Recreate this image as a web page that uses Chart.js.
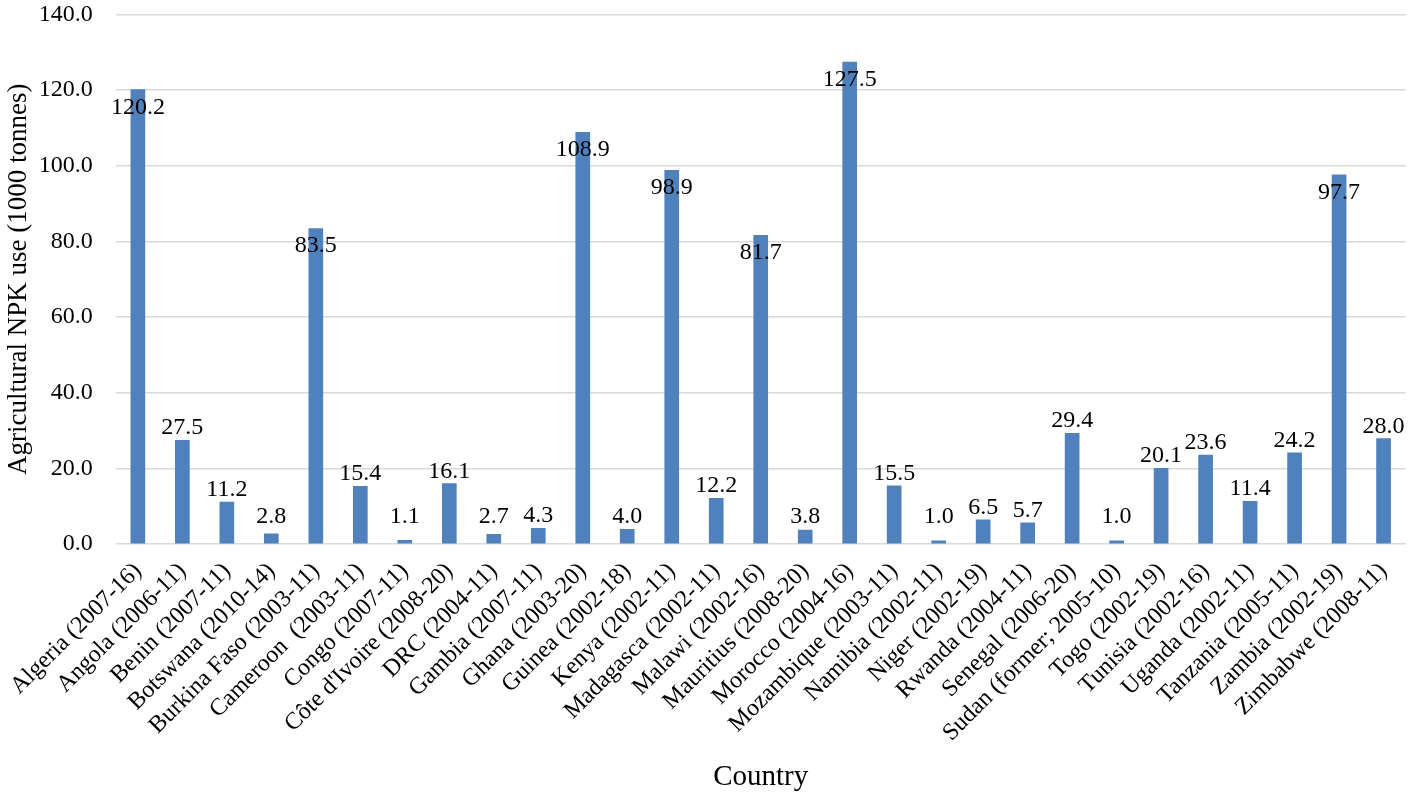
<!DOCTYPE html>
<html>
<head>
<meta charset="utf-8">
<script src="https://cdn.jsdelivr.net/npm/chart.js@4.4.0/dist/chart.umd.min.js"></script>
<style>
html,body{margin:0;padding:0;background:#fff;}
#wrap{width:1417px;height:796px;position:relative;}
</style>
</head>
<body>
<div id="wrap"><canvas id="c"></canvas></div>
<script>
const categories = [
  "Algeria (2007-16)", "Angola (2006-11)", "Benin (2007-11)", "Botswana (2010-14)",
  "Burkina Faso (2003-11)", "Cameroon  (2003-11)", "Congo (2007-11)", "Côte d'Ivoire (2008-20)",
  "DRC (2004-11)", "Gambia (2007-11)", "Ghana (2003-20)", "Guinea (2002-18)",
  "Kenya (2002-11)", "Madagasca (2002-11)", "Malawi (2002-16)", "Mauritius (2008-20)",
  "Morocco (2004-16)", "Mozambique (2003-11)", "Namibia (2002-11)", "Niger (2002-19)",
  "Rwanda (2004-11)", "Senegal (2006-20)", "Sudan (former; 2005-10)", "Togo (2002-19)",
  "Tunisia (2002-16)", "Uganda (2002-11)", "Tanzania (2005-11)", "Zambia (2002-19)",
  "Zimbabwe (2008-11)"
];
const npkUse = [
  120.2, 27.5, 11.2, 2.8, 83.5, 15.4, 1.1, 16.1, 2.7, 4.3, 108.9, 4.0, 98.9, 12.2, 81.7,
  3.8, 127.5, 15.5, 1.0, 6.5, 5.7, 29.4, 1.0, 20.1, 23.6, 11.4, 24.2, 97.7, 28.0
];
const yTicks = [0, 20, 40, 60, 80, 100, 120, 140];
const yAxisTitle = "Agricultural NPK use (1000 tonnes)";
const xAxisTitle = "Country";

const FONT = "'Liberation Serif', 'Times New Roman', serif";

const dataLabels = {
  id: 'dataLabels',
  afterDatasetsDraw(chart) {
    const ctx = chart.ctx;
    const meta = chart.getDatasetMeta(0);
    const yScale = chart.scales.y;
    const base = yScale.getPixelForValue(0);
    const tallLimit = yScale.getPixelForValue(75);
    ctx.save();
    ctx.font = "24px " + FONT;
    ctx.fillStyle = "#000";
    ctx.textAlign = "center";
    ctx.textBaseline = "middle";
    meta.data.forEach((bar, i) => {
      const v = chart.data.datasets[0].data[i];
      let y;
      if (bar.y < tallLimit) {
        y = bar.y + 18;
      } else {
        y = Math.min(bar.y - 12, base - 27);
      }
      ctx.fillText(v.toFixed(1), bar.x, y);
    });
    ctx.restore();
  }
};

new Chart(document.getElementById('c'), {
  type: 'bar',
  data: {
    labels: categories,
    datasets: [{
      data: npkUse,
      backgroundColor: '#4F81BD',
      borderWidth: 0,
      barPercentage: 0.33,
      categoryPercentage: 1.0
    }]
  },
  options: {
    responsive: true,
    maintainAspectRatio: false,
    animation: false,
    layout: { padding: { left: 0, right: 7, top: 0, bottom: 1 } },
    plugins: {
      legend: { display: false },
      tooltip: { enabled: false }
    },
    scales: {
      x: {
        grid: { display: false, drawTicks: false },
        border: { display: false },
        ticks: {
          color: '#000',
          font: { family: FONT, size: 24 },
          maxRotation: 45,
          minRotation: 45,
          autoSkip: false,
          padding: 13
        },
        title: {
          display: true,
          text: xAxisTitle,
          color: '#000',
          font: { family: FONT, size: 29 },
          padding: { top: 0, bottom: 0 }
        }
      },
      y: {
        min: 0,
        max: 140,
        afterBuildTicks(axis) {
          axis.ticks = yTicks.map(v => ({ value: v }));
        },
        grid: { color: '#D9D9D9', lineWidth: 1.5, drawTicks: true, tickLength: 23, tickColor: 'rgba(0,0,0,0)' },
        border: { display: false },
        ticks: {
          color: '#000',
          font: { family: FONT, size: 24 },
          padding: 0,
          callback: v => Number(v).toFixed(1)
        },
        title: {
          display: true,
          text: yAxisTitle,
          color: '#000',
          font: { family: FONT, size: 27 },
          padding: { top: 0, bottom: 4 }
        }
      }
    }
  },
  plugins: [dataLabels]
});
</script>
</body>
</html>
